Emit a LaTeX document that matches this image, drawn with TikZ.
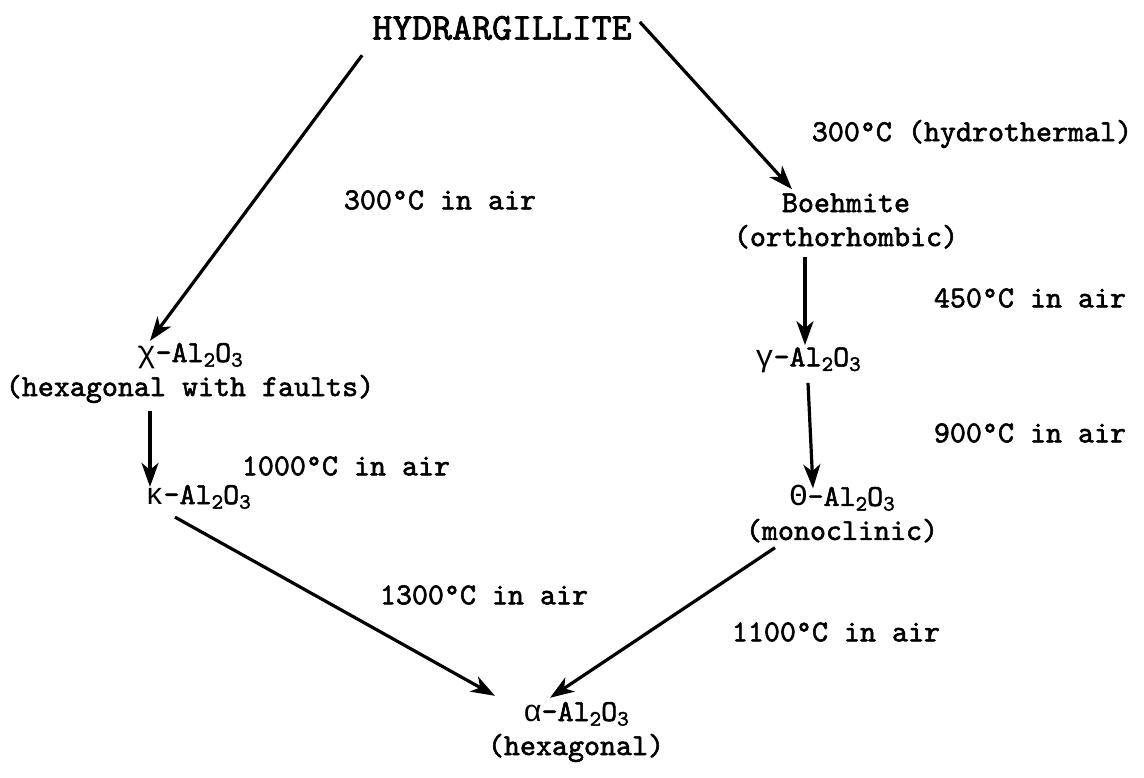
\documentclass[tikz,border=0pt]{standalone}
\usepackage{fontspec}
\setmainfont{lmmono10-regular.otf}[FakeBold=1.8]
\newfontfamily\grk{Liberation Mono}
\usetikzlibrary{arrows.meta}
\newcommand{\mysub}[1]{\raisebox{-0.35ex}{\fontsize{22}{22}\selectfont #1}}
\newcommand{\alox}[1]{{\grk #1}-Al\mysub{2}O\mysub{3}}
\begin{document}
\begin{tikzpicture}[x=1pt,y=-1pt,
  txt/.style={inner sep=0pt, align=center, font=\fontsize{30.5}{34}\selectfont},
  big/.style={inner sep=0pt, font=\fontsize{38}{40}\selectfont},
  arr/.style={line width=3.2pt, -{Stealth[length=24pt,width=17pt,inset=7pt]}}]
\useasboundingbox (0,0) rectangle (1144,777);
% nodes
\node[big] (h) at (502,28) {HYDRARGILLITE};
\node[txt] (b) at (846,221) {Boehmite\\(orthorhombic)};
\node[txt] (g) at (808,360) {\alox{γ}};
\node[txt] (t) at (842,514) {\alox{Θ}\\(monoclinic)};
\node[txt] (c) at (190,373) {\alox{χ}\\(hexagonal with faults)};
\node[txt] (k) at (198,497) {\alox{κ}};
\node[txt] (a) at (576,732) {\alox{α}\\(hexagonal)};
% labels
\node[txt] (l1) at (440,200) {300°C in air};
\node[txt] (l2) at (972,134) {300°C (hydrothermal)};
\node[txt] (l3) at (1030,298) {450°C in air};
\node[txt] (l4) at (1030,433) {900°C in air};
\node[txt] (l5) at (346,466) {1000°C in air};
\node[txt] (l6) at (484,595) {1300°C in air};
\node[txt] (l7) at (836,632) {1100°C in air};
% arrows
\draw[arr] ([xshift=-10pt,yshift=-15pt]h.south west) -- ([xshift=-40pt,yshift=2pt]c.north);
\draw[arr] ([xshift=8pt,yshift=6pt]h.east) -- ([xshift=-54pt,yshift=4pt]b.north);
\draw[arr] ([xshift=-41pt,yshift=-8pt]b.south) -- ([xshift=-3pt,yshift=2pt]g.north);
\draw[arr] ([yshift=-10pt]g.south) -- ([xshift=-29pt,yshift=-3pt]t.north);
\draw[arr] ([xshift=-40pt,yshift=-8pt]c.south) -- ([xshift=-48pt,yshift=-2pt]k.north);
\draw[arr] ([xshift=-23pt,yshift=-8pt]k.south) -- ([xshift=-81pt,yshift=6pt]a.north);
\draw[arr] ([xshift=-67pt,yshift=-5pt]t.south) -- ([xshift=-26pt,yshift=4pt]a.north);
\end{tikzpicture}
\end{document}
